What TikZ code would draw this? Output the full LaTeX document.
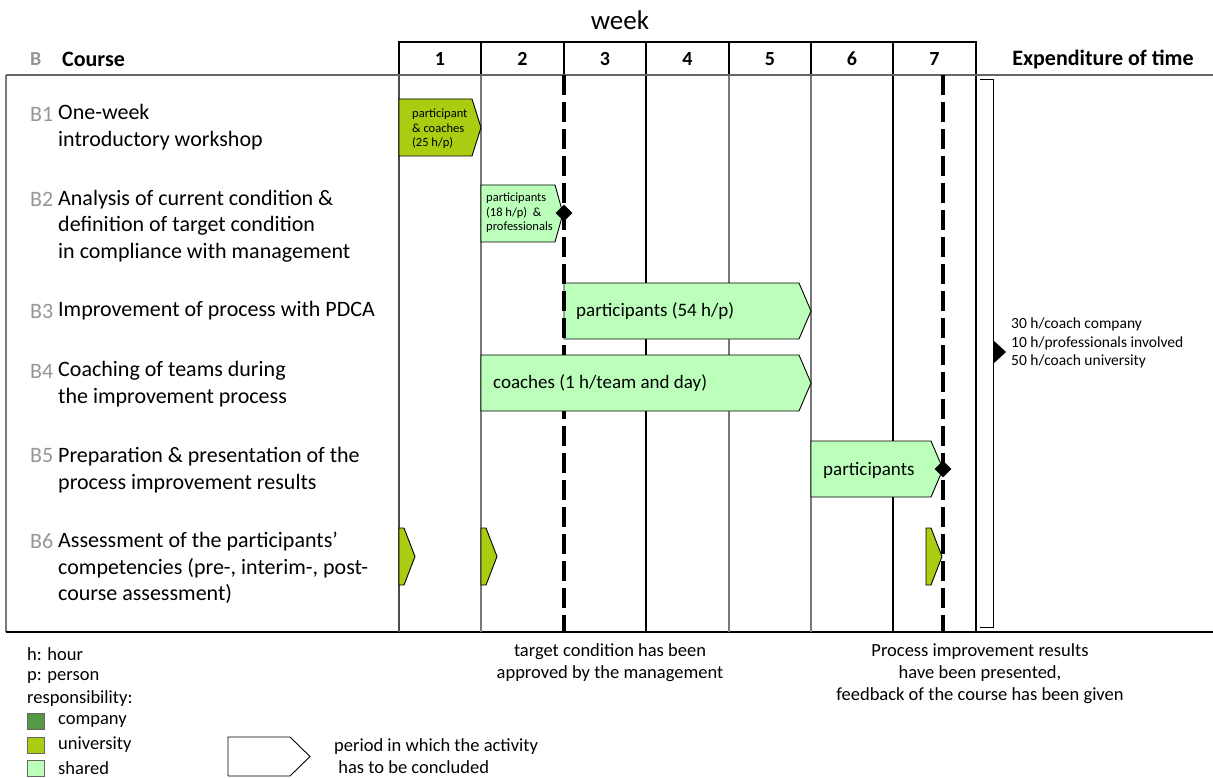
\documentclass[tikz,border=0pt]{standalone}
\usepackage{fontspec}
\setmainfont{Carlito}
\usetikzlibrary{shapes.geometric}
\definecolor{uni}{RGB}{170,204,17}
\definecolor{shared}{RGB}{187,255,187}
\definecolor{comp}{RGB}{85,153,68}
\definecolor{lbl}{RGB}{150,150,150}
\definecolor{gridc}{RGB}{120,120,120}
\newcommand\actbar[7]{%
  \path[actbox, fill=#7] (#2,#4) -- ({#3-#6},#4) -- (#3,{(#4+#5)/2}) -- ({#3-#6},#5) -- (#2,#5) -- cycle;
  \coordinate (#1) at (#2,{(#4+#5)/2});}
\tikzset{
  main/.style={font=\fontsize{22}{26.5}\selectfont, inner sep=0, align=left, anchor=west},
  bl/.style={main, text=lbl},
  hdr/.style={font=\bfseries\fontsize{20}{24}\selectfont, inner sep=0},
  bartxt/.style={font=\fontsize{19}{23}\selectfont, inner sep=0, anchor=west},
  smalltxt/.style={font=\fontsize{12.5}{14.5}\selectfont, inner sep=0, align=left, anchor=west},
  exptxt/.style={font=\fontsize{15.5}{18.6}\selectfont, inner sep=0, align=left, anchor=west},
  note/.style={font=\fontsize{18.5}{22}\selectfont, inner sep=0, align=center, anchor=north},
  leg/.style={font=\fontsize{18.5}{22.5}\selectfont, inner sep=0, anchor=west, align=left},
  actbox/.style={draw=black, line width=0.9},
  milestone/.style={diamond, fill=black, inner sep=0, minimum size=17},
  deadline/.style={line width=3.2, dash pattern=on 20 off 7},
  gridline/.style={line width=1.2, draw=gridc},
  darkline/.style={line width=1.2, draw=black},
  legbox/.style={draw=black!60, line width=0.6},
}
\begin{document}
\begin{tikzpicture}[x=1pt,y=-1pt]
\useasboundingbox (0,0) rectangle (1213,778);
% title
\node[font=\fontsize{27}{32}\selectfont, inner sep=0] (week) at (620,20) {week};
% header
\node[font=\fontsize{20}{24}\selectfont\bfseries, text=lbl, inner sep=0, anchor=west] (hb) at (30,59) {B};
\node[font=\fontsize{22}{26}\selectfont\bfseries, inner sep=0, anchor=west] (hcourse) at (62,59) {Course};
\node[font=\fontsize{22}{26}\selectfont\bfseries, inner sep=0] (hexp) at (1103,59) {Expenditure of time};
\draw[line width=1.1] (399,42) rectangle (976,75);
\foreach \x in {481,564,646,729,811,893} \draw[line width=1.1] (\x,42) -- (\x,75);
\foreach \n/\x in {1/440,2/522.5,3/605,4/687.5,5/770,6/852,7/934.5}
  \node[hdr] (w\n) at (\x,59) {\n};
% body frame
\draw[gridline] (6,75) -- (6,632);
\draw[line width=1.4] (6,632) -- (1213,632);
% grid
\draw[gridline, draw=black!70] (399,75) -- (399,632);
\draw[gridline] (481,75) -- (481,632);
\draw[darkline] (646,75) -- (646,632);
\draw[gridline] (729,75) -- (729,632);
\draw[gridline] (811,75) -- (811,632);
\draw[darkline] (893,75) -- (893,632);
\draw[darkline] (976,75) -- (976,632);
\draw[line width=2.6, draw=black!60] (6,75) -- (1213,75);
% bars
\actbar{b1}{399}{481}{99}{156}{9}{uni}
\actbar{b2}{481}{563}{185}{242}{8}{shared}
\actbar{b3}{564}{811}{283}{339}{12}{shared}
\actbar{b5}{811}{943}{441}{497}{12}{shared}
\actbar{b6a}{399}{415}{528}{585}{11}{uni}
\actbar{b6b}{481}{497}{528}{585}{11}{uni}
\actbar{b6c}{926}{942}{528}{585}{11}{uni}
% deadlines
\draw[deadline] (564,75) -- (564,632);
\draw[deadline] (943,75) -- (943,632);
\actbar{b4}{481}{811}{355}{411}{12}{shared}
\node[milestone] (m1) at (564,213) {};
\node[milestone] (m2) at (943,469) {};
% bar texts
\node[smalltxt] (t1) at (412,129) {participant\\\& coaches\\(25 h/p)};
\node[smalltxt] (t2) at (486,213) {participants\\(18 h/p) ~\&\\professionals};
\node[bartxt] (t3) at (576,311) {participants (54 h/p)};
\node[bartxt] (t4) at (493,383) {coaches (1 h/team and day)};
\node[bartxt] (t5) at (823,470) {participants};
% row labels
\node[bl] (l1) at (30,114) {B1};
\node[main] (r1) at (58,127) {One-week\\introductory workshop};
\node[bl] (l2) at (30,199) {B2};
\node[main] (r2) at (58,226) {Analysis of current condition \&\\definition of target condition\\in compliance with management};
\node[bl] (l3) at (30,311) {B3};
\node[main] (r3) at (58,311) {Improvement of process with PDCA};
\node[bl] (l4) at (30,371) {B4};
\node[main] (r4) at (58,384) {Coaching of teams during\\the improvement process};
\node[bl] (l5) at (30,456) {B5};
\node[main] (r5) at (58,470) {Preparation \& presentation of the\\process improvement results};
\node[bl] (l6) at (30,541) {B6};
\node[main] (r6) at (58,568) {Assessment of the participants’\\competencies (pre-, interim-, post-\\course assessment)};
% expenditure bracket
\draw[line width=1] (980,80) -- (993,80) -- (993,627) -- (980,627);
\fill (993,340) -- (1006,352) -- (993,364) -- cycle;
\node[exptxt] (exp) at (1011,343) {30 h/coach company\\10 h/professionals involved\\50 h/coach university};
% notes
\node[note] (n1) at (610,643) {target condition has been\\approved by the management};
\node[note] (n2) at (980,643) {Process improvement results\\have been presented,\\feedback of the course has been given};
% legend
\node[leg] (lh) at (27,654) {h: hour};
\node[leg] (lp) at (27,677) {p: person};
\node[leg] (lr) at (27,699) {responsibility:};
\draw[legbox, fill=comp] (27,713) rectangle (44,729);
\draw[legbox, fill=uni] (27,737) rectangle (44,753);
\draw[legbox, fill=shared] (27,760) rectangle (44,776);
\node[leg] (lc) at (58,721) {company};
\node[leg] (lu) at (58,745) {university};
\node[leg] (ls) at (58,768) {shared};
\path[actbox, fill=white] (228,737) -- (290,737) -- (310,756.5) -- (290,776) -- (228,776) -- cycle;
\coordinate (legarrow) at (310,756.5);
\node[leg] (lperiod) at (334,756) {period in which the activity\\\ has to be concluded};
\end{tikzpicture}
\end{document}
